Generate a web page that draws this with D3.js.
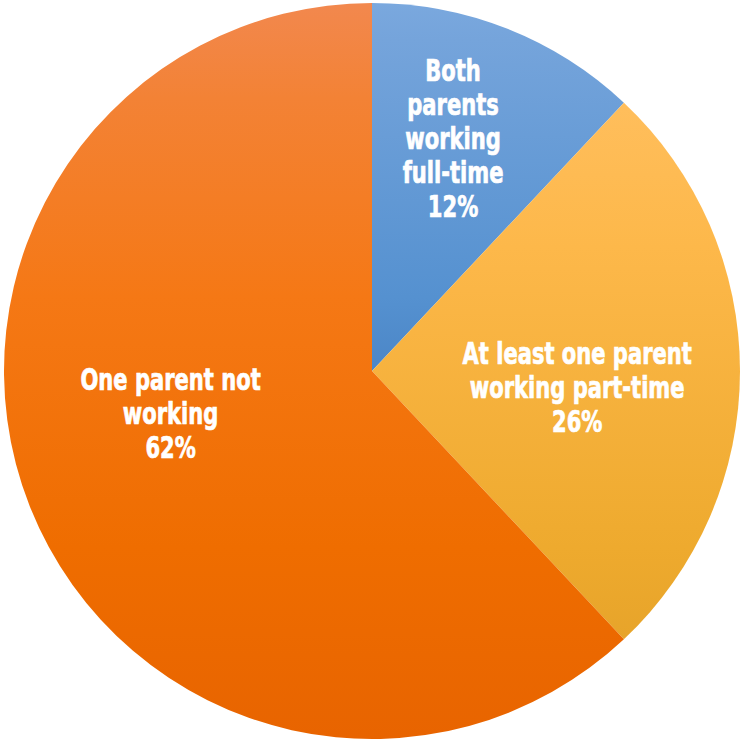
<!DOCTYPE html>
<html>
<head>
<meta charset="utf-8">
<script src="https://d3js.org/d3.v7.min.js"></script>
<style>
  body { margin: 0; background: #fff; }
  svg text { font-family: "DejaVu Sans Condensed", "DejaVu Sans", sans-serif; font-weight: bold; fill: #fff; stroke: #fff; stroke-width: 0.7px; }
</style>
</head>
<body>
<script>
// slice data
var categories = ["Both parents working full-time", "At least one parent working part-time", "One parent not working"];
var values = [12, 26, 62];
var labelLines = [
  ["Both", "parents", "working", "full-time", "12%"],
  ["At least one parent", "working part-time", "26%"],
  ["One parent not", "working", "62%"]
];
// gradient stops per slice, top to bottom
var gradStops = [
  [[0, "#7aa8de"], [0.1, "#75a4db"], [0.8, "#5591d0"], [1, "#4b86c7"]],
  [[0, "#ffbe5c"], [0.27, "#fdb84a"], [0.83, "#eeaa2e"], [1, "#e7a42a"]],
  [[0, "#f2884e"], [0.13, "#f38235"], [0.4, "#f57815"], [0.74, "#ef6d00"], [1, "#e86400"]]
];
// label nudges from the centroid
var labelShift = [[-7, -10], [-34, 17], [21, -45]];

var width = 743, height = 740;
var cx = 372, cy = 371, radius = 368;
var lineHeight = 34;
var squeeze = 0.78; // fake a condensed face

var svg = d3.select("body").append("svg")
  .attr("width", width)
  .attr("height", height);

var pie = d3.pie().sort(null).value(function(d) { return d; });
var arcs = pie(values);

var arc = d3.arc().innerRadius(0).outerRadius(radius);
var labelArc = d3.arc().innerRadius(radius * 0.65).outerRadius(radius * 0.65);

var defs = svg.append("defs");
gradStops.forEach(function(stops, i) {
  var g = defs.append("linearGradient")
    .attr("id", "grad" + i)
    .attr("x1", 0).attr("y1", 0).attr("x2", 0).attr("y2", 1);
  stops.forEach(function(s) {
    g.append("stop").attr("offset", s[0]).attr("stop-color", s[1]);
  });
});

var chart = svg.append("g")
  .attr("transform", "translate(" + cx + "," + cy + ")");

chart.selectAll("path.slice")
  .data(arcs)
  .enter()
  .append("path")
  .attr("class", "slice")
  .attr("d", arc)
  .attr("fill", function(d, i) { return "url(#grad" + i + ")"; });

// labels
var labels = chart.selectAll("text.label")
  .data(arcs)
  .enter()
  .append("text")
  .attr("class", "label")
  .attr("text-anchor", "middle")
  .style("font-size", "30px")
  .attr("transform", function(d, i) {
    var c = labelArc.centroid(d);
    return "translate(" + (c[0] + labelShift[i][0]) + "," + (c[1] + labelShift[i][1]) + ") scale(" + squeeze + ",1)";
  });

labels.each(function(d, i) {
  var lines = labelLines[i];
  var first = -(lines.length - 1) * lineHeight / 2 + 10;
  d3.select(this).selectAll("tspan")
    .data(lines)
    .enter()
    .append("tspan")
    .attr("x", 0)
    .attr("y", function(l, j) { return first + j * lineHeight; })
    .text(function(l) { return l; });
});
</script>
</body>
</html>
